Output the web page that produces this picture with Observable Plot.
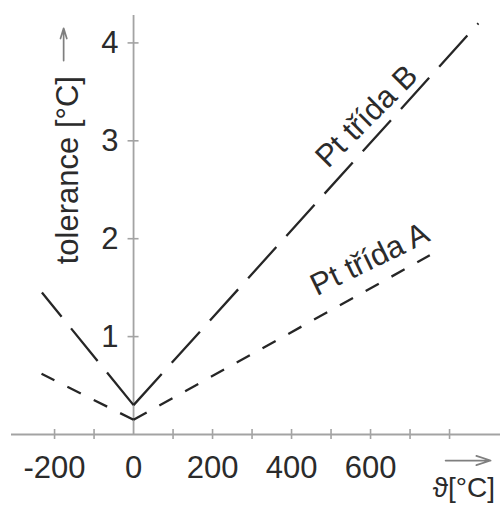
<!DOCTYPE html>
<html>
<head>
<meta charset="utf-8">
<script src="https://cdn.jsdelivr.net/npm/d3@7"></script>
<script src="https://cdn.jsdelivr.net/npm/@observablehq/plot@0.6"></script>
<style>
  html, body { margin: 0; padding: 0; background: #fff; }
</style>
</head>
<body>
<div id="chart"></div>
<script>
// Data
const tempB = [-232, 0, 873];
const tolB  = [1.45, 0.30, 4.20];
const tempA = [-233, 0, 750];
const tolA  = [0.62, 0.15, 1.83];

const xTicks = [-200, -100, 100, 200, 300, 400, 500, 600, 700, 800];
const xTickLabels = [-200, 0, 200, 400, 600];
const yTicks = [1, 2, 3, 4];

const seriesLabels = ["Pt třída B", "Pt třída A"];
const labelX = [590, 598];
const labelY = [3.25, 1.79];
const labelRotate = [-45, -26];

const yTitle = "tolerance [°C]";
const xTitle = "ϑ[°C]";

// layout
const W = 504, H = 505;
const mL = 11, mR = 4, mT = 15, mB = 71;
const xDom = [-309, 929], yDom = [0, 4.28];
const pxX = (xDom[1] - xDom[0]) / (W - mL - mR);
const pxY = (yDom[1] - yDom[0]) / (H - mT - mB);

// build segments, each drawn from the vertex outward (dash pattern starts at vertex)
function segments(temps, tols, name) {
  const v = 1;
  return [
    [{x: temps[v], y: tols[v], s: name + "L"}, {x: temps[0], y: tols[0], s: name + "L"}],
    [{x: temps[v], y: tols[v], s: name + "R"}, {x: temps[2], y: tols[2], s: name + "R"}]
  ].flat();
}
const segB = segments(tempB, tolB, "B");
const segA = segments(tempA, tolA, "A");

const axisColor = "#a3a3a3";
const textColor = "#2b2b2b";
const lineColor = "#262626";
const font = 31;

const labelRows = seriesLabels.map((t, i) => ({t, x: labelX[i], y: labelY[i]}));

const chart = Plot.plot({
  width: W, height: H,
  marginLeft: mL, marginRight: mR, marginTop: mT, marginBottom: mB,
  x: {domain: xDom, axis: null},
  y: {domain: yDom, axis: null},
  style: {fontFamily: "'Liberation Sans', Arial, sans-serif", background: "#fff", overflow: "visible"},
  marks: [
    // axes
    Plot.ruleY([0], {x1: xDom[0], x2: xDom[1], stroke: axisColor, strokeWidth: 1.8}),
    Plot.ruleX([0], {y1: 0, y2: yDom[1], stroke: axisColor, strokeWidth: 1.8}),
    Plot.ruleX(xTicks, {x: d => d, y1: -5 * pxY, y2: 5 * pxY, stroke: axisColor, strokeWidth: 1.6}),
    Plot.ruleY(yTicks, {y: d => d, x1: -5.5 * pxX, x2: 5.5 * pxX, stroke: axisColor, strokeWidth: 1.6}),
    // tick labels
    Plot.text(xTickLabels, {x: d => d, y: 0, dy: 34, text: d => String(d), fontSize: font, fill: textColor, textAnchor: "middle"}),
    Plot.text(yTicks, {x: 0, y: d => d, dx: -15, text: d => String(d), fontSize: font, fill: textColor, textAnchor: "end"}),
    // series lines
    Plot.line(segB, {x: "x", y: "y", z: "s", stroke: lineColor, strokeWidth: 2.3, strokeDasharray: "42,15", strokeLinecap: "butt"}),
    Plot.line(segA, {x: "x", y: "y", z: "s", stroke: lineColor, strokeWidth: 2.3, strokeDasharray: "15,14.5", strokeLinecap: "butt"}),
    // series labels
    Plot.text(labelRows.slice(0, 1),
      {x: "x", y: "y", text: "t", rotate: labelRotate[0], fontSize: 31, fill: textColor, textAnchor: "middle"}),
    Plot.text(labelRows.slice(1, 2),
      {x: "x", y: "y", text: "t", rotate: labelRotate[1], fontSize: 31, fill: textColor, textAnchor: "middle"}),
    // axis titles
    Plot.text([yTitle], {x: -165, y: 2.70, text: d => d, rotate: -90, fontSize: font, fill: textColor, textAnchor: "middle"}),
    Plot.text([xTitle], {x: 836, y: -0.55, text: d => d, fontSize: 28, fill: textColor, textAnchor: "middle"}),
    // arrows
    Plot.arrow([{x1: -177, y1: 3.82, x2: -177, y2: 4.15}], {x1: "x1", y1: "y1", x2: "x2", y2: "y2", stroke: "#7f7f7f", strokeWidth: 1.7, headLength: 17, headAngle: 34}),
    Plot.arrow([{x1: 790, y1: -0.266, x2: 904, y2: -0.266}], {x1: "x1", y1: "y1", x2: "x2", y2: "y2", stroke: "#7f7f7f", strokeWidth: 1.7, headLength: 15, headAngle: 36})
  ]
});
document.getElementById("chart").appendChild(chart);
</script>
</body>
</html>
